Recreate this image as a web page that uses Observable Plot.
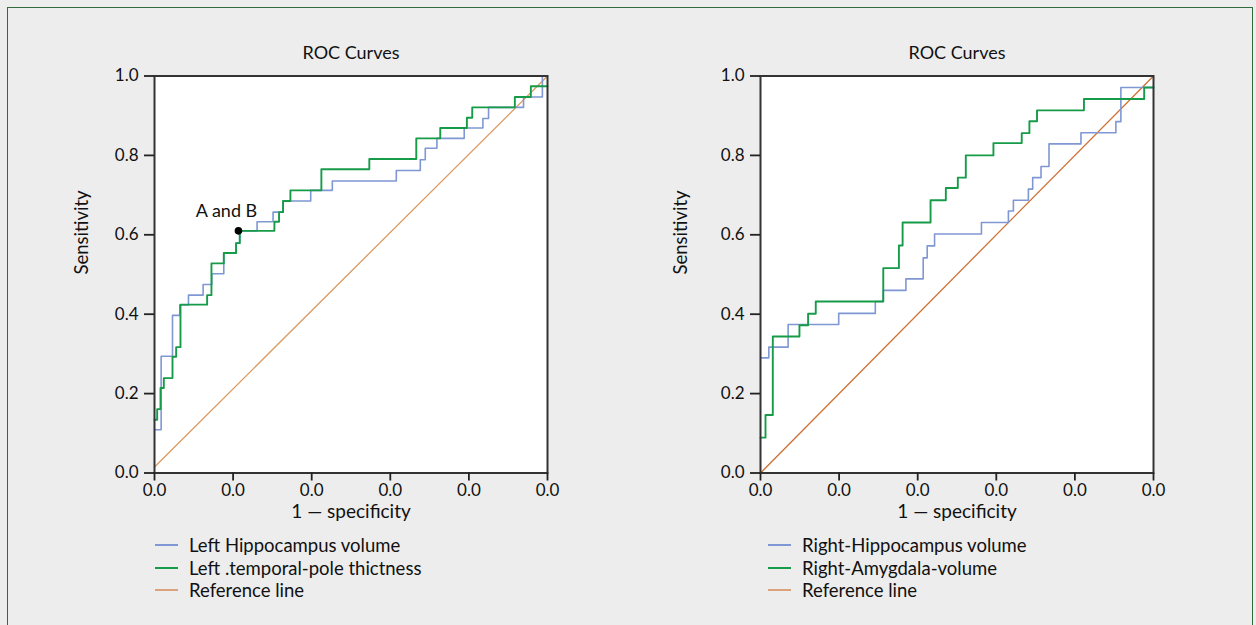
<!DOCTYPE html>
<html>
<head>
<meta charset="utf-8">
<script src="https://cdn.jsdelivr.net/npm/d3@7"></script>
<script src="https://cdn.jsdelivr.net/npm/@observablehq/plot@0.6"></script>
<style>
  html, body { margin: 0; padding: 0; background: #ededed; overflow: hidden; }
  #page { position: relative; width: 1256px; height: 625px; background: #ededed; font-family: Lato, sans-serif; color: #111; }
  #border { position: absolute; left: 7px; top: 7px; width: 1246px; height: 700px; border: 1px solid #2f6e3a; box-sizing: border-box; }
  .panel { position: absolute; top: 30px; }
  .legend { position: absolute; font-size: 18.5px; line-height: 22.5px; }
  .legend .row { display: flex; align-items: center; white-space: nowrap; }
  .legend .sw { display: inline-block; width: 23px; height: 0; border-top: 2px solid; margin-right: 11px; }
</style>
</head>
<body>
<div id="page">
  <div id="border"></div>
  <div id="p1" class="panel" style="left:20px"></div>
  <div id="p2" class="panel" style="left:626px"></div>
  <div id="l1" class="legend" style="left:155px; top:534px"></div>
  <div id="l2" class="legend" style="left:768px; top:534px"></div>
</div>
<script>
// ---- data ----
const xTicks = [0, 0.2, 0.4, 0.6, 0.8, 1.0];
const xTickLabels = ["0.0", "0.0", "0.0", "0.0", "0.0", "0.0"];
const yTicks = [0, 0.2, 0.4, 0.6, 0.8, 1.0];
const yTickLabels = ["0.0", "0.2", "0.4", "0.6", "0.8", "1.0"];

const chartTitle = "ROC Curves";
const xLabel = "1 \u2014 specificity";
const yLabel = "Sensitivity";

// Left panel
const leftSeriesNames = ["Left Hippocampus volume", "Left .temporal-pole thictness", "Reference line"];
const leftHippoX = [0, 0.0169, 0.0458, 0.0644, 0.0864, 0.1237, 0.1458, 0.1763, 0.2076, 0.2169, 0.261, 0.3017, 0.3271, 0.3975, 0.4525, 0.6153, 0.6763, 0.6890, 0.7186, 0.7881, 0.8356, 0.85, 0.939, 0.987, 1];
const leftHippoY = [0.109, 0.294, 0.397, 0.423, 0.448, 0.475, 0.502, 0.554, 0.579, 0.610, 0.633, 0.657, 0.685, 0.712, 0.7355, 0.762, 0.789, 0.818, 0.843, 0.869, 0.893, 0.921, 0.947, 1.0, 1.0];
const leftTemporalX = [0, 0.0068, 0.0153, 0.0237, 0.0458, 0.0551, 0.0661, 0.1339, 0.1449, 0.1763, 0.2076, 0.2169, 0.3051, 0.3169, 0.3271, 0.3458, 0.4246, 0.5466, 0.6661, 0.7271, 0.7949, 0.8085, 0.9169, 0.9576, 1];
const leftTemporalY = [0.134, 0.161, 0.214, 0.239, 0.293, 0.317, 0.424, 0.448, 0.528, 0.554, 0.579, 0.610, 0.633, 0.657, 0.685, 0.712, 0.765, 0.791, 0.843, 0.869, 0.895, 0.921, 0.947, 0.974, 0.974];
const leftRefX = [0, 1];
const leftRefY = [0.015, 1];
const annotX = [0.2136];
const annotY = [0.610];
const annotText = ["A and B"];

// Right panel
const rightSeriesNames = ["Right-Hippocampus volume", "Right-Amygdala-volume", "Reference line"];
const rightHippoX = [0, 0.0212, 0.0703, 0.199, 0.2921, 0.3124, 0.370, 0.414, 0.4242, 0.4429, 0.5622, 0.6308, 0.6435, 0.6816, 0.6926, 0.7138, 0.7341, 0.8154, 0.9043, 0.917, 1];
const rightHippoY = [0.290, 0.317, 0.374, 0.402, 0.432, 0.460, 0.489, 0.542, 0.572, 0.602, 0.631, 0.660, 0.687, 0.715, 0.744, 0.772, 0.829, 0.857, 0.885, 0.971, 0.971];
const rightAmygX = [0, 0.0127, 0.0313, 0.0991, 0.1211, 0.1406, 0.3124, 0.3522, 0.3616, 0.4327, 0.4716, 0.5021, 0.5224, 0.5927, 0.6647, 0.6842, 0.7036, 0.823, 0.9763, 1];
const rightAmygY = [0.089, 0.146, 0.344, 0.372, 0.401, 0.432, 0.516, 0.573, 0.631, 0.687, 0.718, 0.744, 0.800, 0.831, 0.856, 0.886, 0.9135, 0.942, 0.971, 0.971];
const rightRefX = [0, 1];
const rightRefY = [0, 1];

const blue = "#7f97d3";
const green = "#169c48";
const orangeL = "#dc9a62";
const orangeR = "#cf7236";
const legendOrange = "#dba27c";
const ink = "#111";

const toPts = (xs, ys) => xs.map((x, i) => ({x, y: ys[i]}));

function panel({hippo, other, ref, refColor, annot, yLabelDx}) {
  const marks = [
    Plot.frame({fill: "white", stroke: null}),
    Plot.line(ref, {x: "x", y: "y", stroke: refColor, strokeWidth: 1.3}),
    Plot.line(hippo, {x: "x", y: "y", stroke: blue, strokeWidth: 1.6, curve: "step-after"}),
    Plot.line(other, {x: "x", y: "y", stroke: green, strokeWidth: 1.9, curve: "step-after"}),
    Plot.frame({stroke: "#333", strokeWidth: 2}),
    Plot.axisX({ticks: xTicks, tickFormat: (d, i) => xTickLabels[i], tickSize: 8, tickPadding: 3, label: null, stroke: "#222", strokeWidth: 1.8, fontSize: 17, fill: ink}),
    Plot.axisY({ticks: yTicks, tickFormat: (d, i) => yTickLabels[i], tickSize: 10, tickPadding: 6, label: null, stroke: "#222", strokeWidth: 1.8, fontSize: 17, fill: ink}),
    Plot.text([chartTitle], {frameAnchor: "top", lineAnchor: "middle", dy: -22.5, fontSize: 18, fill: ink}),
    Plot.text([xLabel], {frameAnchor: "bottom", lineAnchor: "middle", dy: 38.5, fontSize: 19, fill: ink}),
    Plot.text([yLabel], {frameAnchor: "left", lineAnchor: "middle", dx: yLabelDx, rotate: -90, fontSize: 18.5, fill: ink})
  ];
  if (annot) {
    marks.push(Plot.dot(annot, {x: "x", y: "y", r: 3.8, fill: "black", stroke: null}));
    marks.push(Plot.text(annot, {x: "x", y: "y", text: "t", dx: -12, dy: -20, fontSize: 18, fill: ink}));
  }
  return Plot.plot({
    width: 560,
    height: 510,
    marginLeft: 134,
    marginRight: 33,
    marginTop: 45.5,
    marginBottom: 67.5,
    x: {domain: [0, 1]},
    y: {domain: [0, 1]},
    style: {background: "transparent", fontFamily: "Lato, sans-serif", fontSize: "17px", color: ink, overflow: "visible"},
    marks
  });
}

document.getElementById("p1").append(panel({
  hippo: toPts(leftHippoX, leftHippoY),
  other: toPts(leftTemporalX, leftTemporalY),
  ref: toPts(leftRefX, leftRefY),
  refColor: orangeL,
  annot: annotX.map((x, i) => ({x, y: annotY[i], t: annotText[i]})),
  yLabelDx: -72
}));
document.getElementById("p2").append(panel({
  hippo: toPts(rightHippoX, rightHippoY),
  other: toPts(rightAmygX, rightAmygY),
  ref: toPts(rightRefX, rightRefY),
  refColor: orangeR,
  annot: null,
  yLabelDx: -79
}));

function legend(el, names) {
  const colors = [blue, green, legendOrange];
  names.forEach((n, i) => {
    const row = document.createElement("div");
    row.className = "row";
    const sw = document.createElement("span");
    sw.className = "sw";
    sw.style.borderTopColor = colors[i];
    row.append(sw, document.createTextNode(n));
    el.append(row);
  });
}
legend(document.getElementById("l1"), leftSeriesNames);
legend(document.getElementById("l2"), rightSeriesNames);
</script>
</body>
</html>
